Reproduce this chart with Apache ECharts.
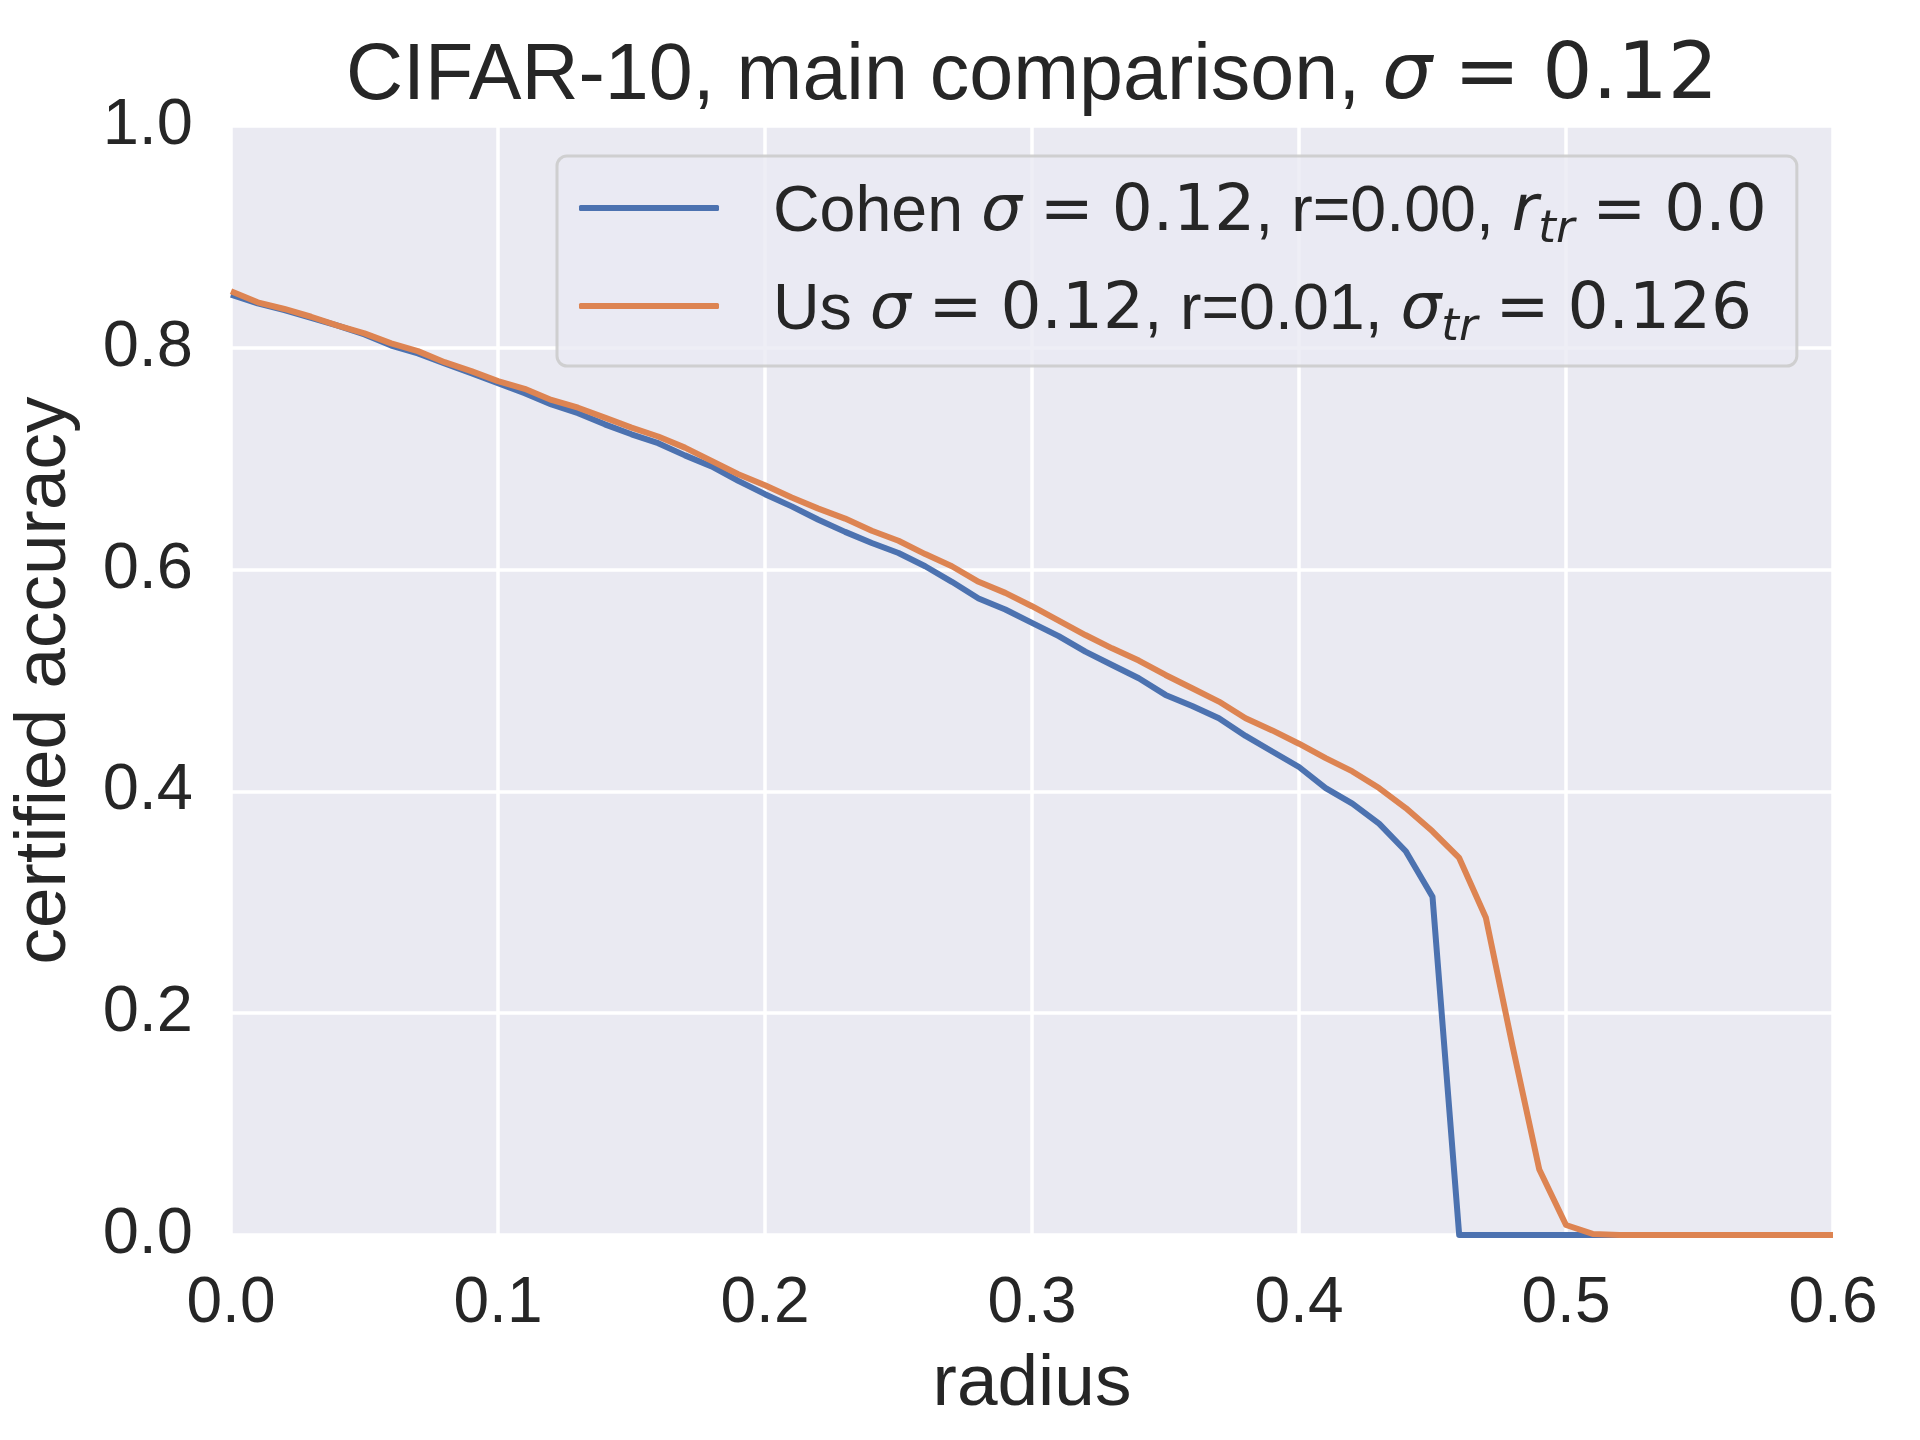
<!DOCTYPE html>
<html>
<head>
<meta charset="utf-8">
<script src="https://cdn.jsdelivr.net/npm/echarts@6/dist/echarts.min.js"></script>
<style>
html,body{margin:0;padding:0;background:#fff;}
#chart{width:1920px;height:1440px;}
</style>
</head>
<body>
<div id="chart"></div>
<script>
const radius = [0.00,0.01,0.02,0.03,0.04,0.05,0.06,0.07,0.08,0.09,
  0.10,0.11,0.12,0.13,0.14,0.15,0.16,0.17,0.18,0.19,
  0.20,0.21,0.22,0.23,0.24,0.25,0.26,0.27,0.28,0.29,
  0.30,0.31,0.32,0.33,0.34,0.35,0.36,0.37,0.38,0.39,
  0.40,0.41,0.42,0.43,0.44,0.45,0.46,0.47,0.48,0.49,
  0.50,0.51,0.52,0.53,0.54,0.55,0.56,0.57,0.58,0.59,0.60];

const cohenAcc = [0.848,0.840,0.834,0.827,0.820,0.812,0.802,0.795,0.786,0.777,
  0.768,0.759,0.749,0.741,0.731,0.722,0.714,0.703,0.693,0.680,
  0.668,0.657,0.645,0.634,0.624,0.615,0.603,0.589,0.574,0.564,
  0.552,0.540,0.526,0.514,0.502,0.487,0.477,0.466,0.450,0.436,
  0.422,0.403,0.389,0.371,0.346,0.305,0.000,0.000,0.000,0.000,
  0.000,0.000,0.000,0.000,0.000,0.000,0.000,0.000,0.000,0.000,0.000];

const usAcc = [0.851,0.841,0.835,0.828,0.820,0.813,0.804,0.797,0.787,0.779,
  0.770,0.763,0.753,0.746,0.737,0.728,0.720,0.710,0.698,0.686,
  0.676,0.665,0.655,0.646,0.635,0.626,0.614,0.603,0.589,0.579,
  0.567,0.554,0.541,0.529,0.518,0.505,0.493,0.481,0.466,0.455,
  0.443,0.430,0.418,0.403,0.385,0.364,0.340,0.286,0.170,0.059,
  0.009,0.001,0.000,0.000,0.000,0.000,0.000,0.000,0.000,0.000,0.000];

const seriesNames = ['Cohen', 'Us'];
const legendLabels = [
  'Cohen {m|σ} {d|=} {d|0.12}, r=0.00, {m|r}{s|tr} {d|=} {d|0.0}',
  'Us {m|σ} {d|=} {d|0.12}, r=0.01, {m|σ}{s|tr} {d|=} {d|0.126}'
];
const xTicks = [0.0,0.1,0.2,0.3,0.4,0.5,0.6];
const yTicks = [0.0,0.2,0.4,0.6,0.8,1.0];
const titleText = 'CIFAR-10, main comparison, {m|σ} {d|=} {d|0.12}';

const TXT = '#262626';
const BASE = 'Liberation Sans, Arial, sans-serif';
const MATH = 'DejaVu Sans, sans-serif';

const chart = echarts.init(document.getElementById('chart'), null, {renderer:'canvas'});

function pairs(xs, ys){ return xs.map((x,i)=>[x, ys[i]]); }

const LFS = 64.5;
const legendRich = {
  m:{fontFamily:MATH, fontStyle:'italic', fontSize:LFS, lineHeight:80, color:TXT},
  d:{fontFamily:MATH, fontSize:LFS, lineHeight:80, color:TXT},
  s:{fontFamily:MATH, fontStyle:'italic', fontSize:45, lineHeight:45, verticalAlign:'bottom', color:TXT}
};

const option = {
  backgroundColor:'#ffffff',
  animation:false,
  title:{
    text:titleText,
    left:1032, top:38, textAlign:'center', padding:0,
    textStyle:{
      fontFamily:BASE, fontSize:79, fontWeight:'normal', color:TXT, lineHeight:79,
      rich:{
        m:{fontFamily:MATH, fontStyle:'italic', fontSize:79, lineHeight:79, color:TXT},
        d:{fontFamily:MATH, fontSize:79, lineHeight:79, color:TXT}
      }
    }
  },
  grid:{
    left:222, top:126, right:87, bottom:205,
    show:true, backgroundColor:'#EAEAF2', borderWidth:0
  },
  legend:{
    orient:'vertical',
    left:557, top:156,
    padding:[7,30,15,22],
    itemWidth:140, itemHeight:6,
    itemGap:8,
    icon:'roundRect',
    backgroundColor:'rgba(234,234,242,0.8)',
    borderColor:'rgba(204,204,204,0.9)',
    borderWidth:3, borderRadius:10,
    data:seriesNames,
    formatter:function(name){ return legendLabels[seriesNames.indexOf(name)]; },
    textStyle:{
      fontFamily:BASE, fontSize:LFS, color:TXT, lineHeight:80,
      padding:[10,0,0,49],
      rich:legendRich
    }
  },
  xAxis:{
    type:'value', min:0, max:0.6, interval:0.1,
    name:'radius', nameLocation:'middle', nameGap:113,
    nameTextStyle:{fontFamily:BASE, fontSize:73, color:TXT, lineHeight:73},
    axisLine:{show:false}, axisTick:{show:false},
    axisLabel:{
      margin:37, fontFamily:BASE, fontSize:64, color:TXT, lineHeight:64,
      formatter:function(v){ return v.toFixed(1); },
      showMinLabel:true, showMaxLabel:true
    },
    splitLine:{show:true, lineStyle:{color:'#ffffff', width:3.5}}
  },
  yAxis:{
    type:'value', min:0, max:1.0, interval:0.2,
    name:'certified accuracy', nameLocation:'middle', nameGap:150, nameRotate:90,
    nameTextStyle:{fontFamily:BASE, fontSize:73, color:TXT, lineHeight:73},
    axisLine:{show:false}, axisTick:{show:false},
    axisLabel:{
      margin:38, fontFamily:BASE, fontSize:65, color:TXT, lineHeight:65,
      formatter:function(v){ return v.toFixed(1); }
    },
    splitLine:{show:true, lineStyle:{color:'#ffffff', width:3.5}}
  },
  series:[
    {
      name:seriesNames[0], type:'line', data:pairs(radius, cohenAcc),
      showSymbol:false, symbol:'none', color:'#4C72B0',
      lineStyle:{width:6, color:'#4C72B0', join:'round'}, clip:true
    },
    {
      name:seriesNames[1], type:'line', data:pairs(radius, usAcc),
      showSymbol:false, symbol:'none', color:'#DD8452',
      lineStyle:{width:6, color:'#DD8452', join:'round'}, clip:true
    }
  ]
};
chart.setOption(option);
</script>
</body>
</html>
